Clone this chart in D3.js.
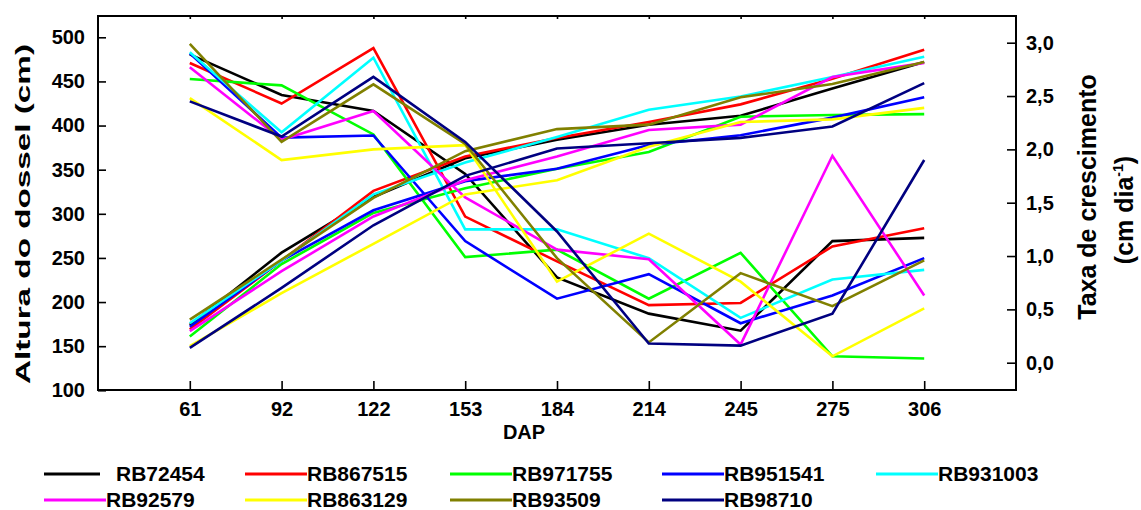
<!DOCTYPE html>
<html>
<head>
<meta charset="utf-8">
<script src="https://cdn.jsdelivr.net/npm/d3@7"></script>
<style>
  body { margin: 0; background: #fff; }
  svg { display: block; font-family: "Liberation Sans", Arial, sans-serif; font-weight: bold; }
</style>
</head>
<body>
<svg width="1141" height="510"></svg>
<script>
// DAP categories
var dap = ["61", "92", "122", "153", "184", "214", "245", "275", "306"];
var variedades = ["RB72454", "RB867515", "RB971755", "RB951541", "RB931003", "RB92579", "RB863129", "RB93509", "RB98710"];
var cores = ["#000000", "#ff0000", "#00ff00", "#0000ff", "#00ffff", "#ff00ff", "#ffff00", "#808000", "#000080"];

// altura do dossel (cm), eixo esquerdo
var alturaRB72454  = [174, 256, 319, 363, 384, 401, 411, 442, 472];
var alturaRB867515 = [169, 247, 326, 365, 386, 404, 424, 453, 486];
var alturaRB971755 = [161, 243, 301, 329, 351, 370, 410, 412, 413];
var alturaRB951541 = [172, 247, 304, 337, 351, 378, 389, 409, 432];
var alturaRB931003 = [176, 247, 322, 358, 387, 418, 433, 455, 478];
var alturaRB92579  = [167, 235, 297, 338, 365, 395, 401, 455, 471];
var alturaRB863129 = [150, 210, 266, 322, 338, 376, 404, 407, 420];
var alturaRB93509  = [180, 248, 318, 371, 396, 401, 432, 447, 472];
var alturaRB98710  = [148, 216, 287, 343, 374, 380, 386, 399, 448];

// taxa de crescimento (cm dia-1), eixo direito
var taxaRB72454  = [2.89, 2.51, 2.36, 1.77, 0.80, 0.46, 0.30, 1.14, 1.17];
var taxaRB867515 = [2.81, 2.43, 2.95, 1.37, 0.95, 0.54, 0.56, 1.09, 1.26];
var taxaRB971755 = [2.66, 2.60, 2.14, 0.99, 1.06, 0.60, 1.03, 0.06, 0.04];
var taxaRB951541 = [2.90, 2.11, 2.13, 1.14, 0.60, 0.83, 0.37, 0.63, 0.98];
var taxaRB931003 = [2.91, 2.16, 2.86, 1.25, 1.25, 0.98, 0.42, 0.78, 0.87];
var taxaRB92579  = [2.77, 2.09, 2.36, 1.55, 1.06, 0.97, 0.17, 1.94, 0.63];
var taxaRB863129 = [2.48, 1.90, 2.00, 2.04, 0.76, 1.21, 0.76, 0.06, 0.51];
var taxaRB93509  = [2.99, 2.07, 2.61, 2.05, 0.98, 0.19, 0.84, 0.53, 0.96];
var taxaRB98710  = [2.45, 2.12, 2.68, 2.07, 1.23, 0.18, 0.16, 0.46, 1.90];

var alturaTicks = [100, 150, 200, 250, 300, 350, 400, 450, 500];
var taxaTicks = [0, 0.5, 1, 1.5, 2, 2.5, 3];

var alturas = [alturaRB72454, alturaRB867515, alturaRB971755, alturaRB951541, alturaRB931003,
               alturaRB92579, alturaRB863129, alturaRB93509, alturaRB98710];
var taxas = [taxaRB72454, taxaRB867515, taxaRB971755, taxaRB951541, taxaRB931003,
             taxaRB92579, taxaRB863129, taxaRB93509, taxaRB98710];

var pLeft = 98, pRight = 1016, pTop = 16, pBottom = 390;

var svg = d3.select("svg");

var x = d3.scalePoint().domain(dap).range([pLeft, pRight]).padding(1);
var yL = d3.scaleLinear().domain([100, 500]).range([390.3, 37.3]);
var yR = d3.scaleLinear().domain([0, 3]).range([362.7, 42.7]);

var virgula = d3.formatLocale({decimal: ",", thousands: ".", grouping: [3], currency: ["R$", ""]}).format(".1f");

// eixos
svg.append("g")
	.attr("transform", "translate(" + pLeft + ",0)")
	.call(d3.axisLeft(yL).tickValues(alturaTicks).tickSizeInner(-8).tickSizeOuter(0).tickPadding(13));

svg.append("g")
	.attr("transform", "translate(" + pRight + ",0)")
	.call(d3.axisRight(yR).tickValues(taxaTicks).tickSizeInner(-9).tickSizeOuter(0).tickPadding(10).tickFormat(virgula));

svg.append("g")
	.attr("transform", "translate(0," + pBottom + ")")
	.call(d3.axisBottom(x).tickSizeInner(-9).tickSizeOuter(0).tickPadding(12));

svg.append("g")
	.attr("transform", "translate(0," + pTop + ")")
	.call(d3.axisTop(x).tickSizeInner(-3).tickSizeOuter(0).tickFormat(""));

svg.selectAll(".domain").remove();
svg.selectAll(".tick line").attr("stroke", "#000").attr("stroke-width", 1.6);
svg.selectAll(".tick text")
	.attr("fill", "#000")
	.style("font-size", "20px")
	.style("font-weight", "bold")
	.style("font-family", "'Liberation Sans', Arial, sans-serif");

// moldura
svg.append("rect")
	.attr("x", pLeft).attr("y", pTop)
	.attr("width", pRight - pLeft).attr("height", pBottom - pTop)
	.attr("fill", "none").attr("stroke", "#000").attr("stroke-width", 2);

// linhas
var linhaAltura = d3.line().x(function(d, i){ return x(dap[i]); }).y(function(d){ return yL(d); });
var linhaTaxa = d3.line().x(function(d, i){ return x(dap[i]); }).y(function(d){ return yR(d); });

for(var i = 0; i < variedades.length; i++){
	svg.append("path")
		.attr("d", linhaAltura(alturas[i]))
		.attr("fill", "none")
		.attr("stroke", cores[i])
		.attr("stroke-width", 2.6)
		.attr("stroke-linejoin", "miter");
	svg.append("path")
		.attr("d", linhaTaxa(taxas[i]))
		.attr("fill", "none")
		.attr("stroke", cores[i])
		.attr("stroke-width", 2.6)
		.attr("stroke-linejoin", "miter");
}

// titulos
svg.append("text")
	.attr("transform", "translate(30,214) rotate(-90)")
	.attr("text-anchor", "middle")
	.attr("textLength", 340)
	.attr("lengthAdjust", "spacingAndGlyphs")
	.style("font-size", "21px")
	.text("Altura do dossel (cm)");

svg.append("text")
	.attr("transform", "translate(1096,197) rotate(-90)")
	.attr("text-anchor", "middle")
	.style("font-size", "25px")
	.text("Taxa de crescimento");

var t2 = svg.append("text")
	.attr("transform", "translate(1133,210) rotate(-90)")
	.attr("text-anchor", "middle")
	.style("font-size", "25px");
t2.append("tspan").text("(cm dia");
t2.append("tspan").attr("dy", -10).style("font-size", "14px").text("-1");
t2.append("tspan").attr("dy", 10).text(")");

svg.append("text")
	.attr("x", 524).attr("y", 439)
	.attr("text-anchor", "middle")
	.style("font-size", "20px")
	.text("DAP");

// legenda
var legX = [44, 245, 450, 662, 876, 44, 245, 450, 662];
var legY = [474, 474, 474, 474, 474, 500, 500, 500, 500];
var leg = svg.selectAll("g.leg")
	.data(variedades)
	.enter()
	.append("g")
	.attr("class", "leg")
	.attr("transform", function(d, i){ return "translate(" + legX[i] + "," + legY[i] + ")"; });

leg.append("line")
	.attr("x1", 0).attr("x2", function(d, i){ return i == 0 ? 56 : 62; }).attr("y1", 0).attr("y2", 0)
	.attr("stroke", function(d, i){ return cores[i]; })
	.attr("stroke-width", 3);

leg.append("text")
	.attr("x", function(d, i){ return i == 0 ? 72 : 62; })
	.attr("y", 7)
	.style("font-size", "21px")
	.text(function(d){ return d; });
</script>
</body>
</html>
